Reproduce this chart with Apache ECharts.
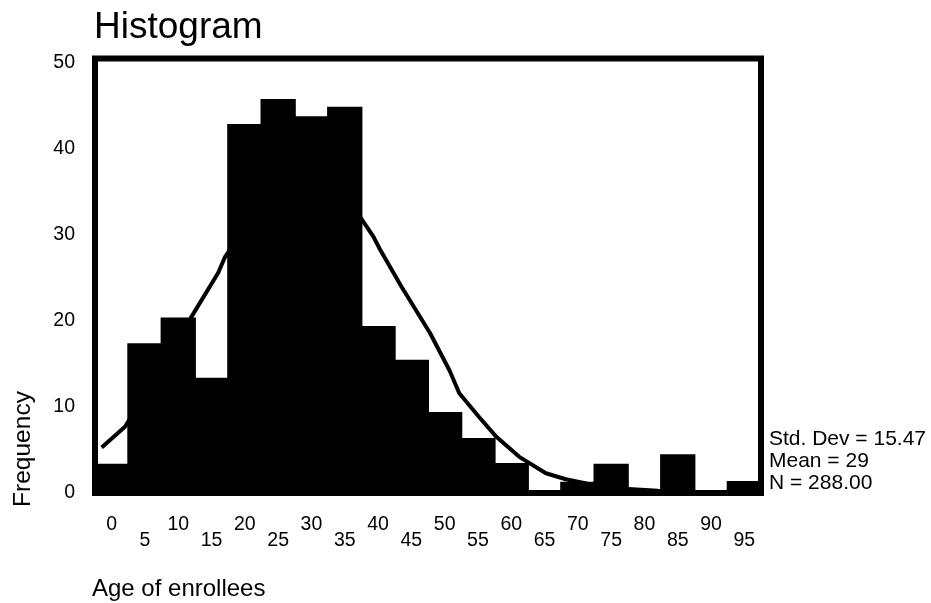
<!DOCTYPE html>
<html>
<head>
<meta charset="utf-8">
<script src="https://cdn.jsdelivr.net/npm/echarts@6/dist/echarts.min.js"></script>
<style>
html,body{margin:0;padding:0;background:#fff;}
#chart{width:931px;height:603px;}
</style>
</head>
<body>
<div id="chart"></div>
<script>
// Histogram categories (bin midpoints) and bar heights
const categories = ['0','5','10','15','20','25','30','35','40','45','50','55','60','65','70','75','80','85','90','95'];
const frequencies = [3.4, 17.4, 20.4, 13.4, 42.9, 45.8, 43.8, 44.9, 19.4, 15.5, 9.4, 6.4, 3.5, 0, 1.3, 3.4, 0, 4.5, 0, 1.4];
// Normal curve points (age, frequency)
const curveX = [-1.5, 2, 7, 12, 16, 17, 22, 27, 29, 32, 35, 37.3, 39.3, 40.3, 43.5, 47.8, 50.7, 52.2, 55.2, 57.8, 61.2, 65.2, 68.2, 72, 77, 82, 87, 92, 97.5];
const curveY = [5.3, 7.7, 14, 20.5, 25.6, 27.4, 33, 36.5, 37, 36, 34, 32.1, 29.8, 28.3, 24, 18.6, 14.3, 11.6, 8.8, 6.5, 4.2, 2.3, 1.6, 1.0, 0.5, 0.25, 0.05, 0, 0];
const yTicks = [0, 10, 20, 30, 40, 50];
const titleText = 'Histogram';
const xName = 'Age of enrollees';
const yName = 'Frequency';
const statsLines = ['Std. Dev = 15.47', 'Mean = 29', 'N = 288.00'];

const FONT = '"Liberation Sans", Arial, Helvetica, sans-serif';
const chart = echarts.init(document.getElementById('chart'), null, {renderer: 'canvas'});
const curveData = curveX.map((x, i) => [x, curveY[i]]);

chart.setOption({
  animation: false,
  backgroundColor: '#fff',
  title: [
    {text: titleText, left: 94, top: 9, padding: 0,
     textStyle: {fontSize: 37, fontWeight: 'normal', fontFamily: FONT, color: '#000'}},
    {text: xName, left: 92, top: 577, padding: 0,
     textStyle: {fontSize: 24, fontWeight: 'normal', fontFamily: FONT, color: '#000'}},
    {text: statsLines.join('\n'), left: 769, top: 428, padding: 0,
     textStyle: {fontSize: 21, lineHeight: 22, fontWeight: 'normal', fontFamily: FONT, color: '#000'}}
  ],
  graphic: [
    {type: 'text', x: 23, y: 449, rotation: Math.PI / 2,
     style: {text: yName, fontSize: 24.5, fontFamily: FONT, fill: '#000', align: 'center', verticalAlign: 'middle'}}
  ],
  grid: {left: 95, right: 170, top: 58.5, bottom: 110, show: true,
         borderColor: '#000', borderWidth: 6, backgroundColor: 'transparent'},
  xAxis: [
    {type: 'category', data: categories, boundaryGap: true,
     axisLine: {show: false}, axisTick: {show: false}, splitLine: {show: false},
     axisLabel: {interval: 0, margin: 24, fontSize: 19.5, lineHeight: 16, fontFamily: FONT, color: '#000',
                 formatter: (v, i) => (i % 2 ? '\n' + v : v)}},
    {type: 'value', min: -2.5, max: 97.5, show: false}
  ],
  yAxis: {
    type: 'value', min: 0, max: 50.5, interval: 10,
    axisLine: {show: false}, axisTick: {show: false}, splitLine: {show: false},
    axisLabel: {margin: 20, fontSize: 19.5, fontFamily: FONT, color: '#000',
                formatter: v => (yTicks.indexOf(v) >= 0 ? String(v) : '')}
  },
  series: [
    {type: 'line', xAxisIndex: 1, data: curveData, symbol: 'none', smooth: false,
     lineStyle: {color: '#000', width: 4}, z: 2},
    {type: 'bar', xAxisIndex: 0, data: frequencies, barWidth: '106%',
     itemStyle: {color: '#000'}, z: 3}
  ]
});
</script>
</body>
</html>
